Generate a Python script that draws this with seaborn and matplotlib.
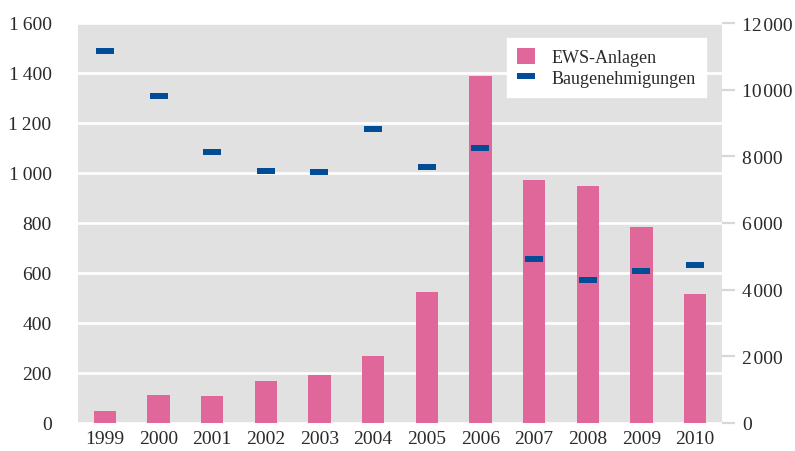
import matplotlib
matplotlib.use("Agg")
from matplotlib import pyplot as plt
from matplotlib.patches import Patch
from matplotlib.lines import Line2D
import seaborn as sns
import numpy as np

# values
years = ['1999', '2000', '2001', '2002', '2003', '2004', '2005', '2006', '2007', '2008', '2009', '2010']
ews_anlagen = [48, 113, 108, 169, 193, 269, 525, 1388, 972, 948, 785, 516]
baugenehmigungen = [11170, 9800, 8130, 7570, 7530, 8810, 7675, 8265, 4910, 4280, 4550, 4730]

left_ticks = [0, 200, 400, 600, 800, 1000, 1200, 1400, 1600]
right_ticks = [0, 2000, 4000, 6000, 8000, 10000, 12000]

pink = '#e0679a'
blue = '#004c97'
panel = '#e1e1e1'
txt = '#2a2a2a'

sns.set_style("white")
plt.rcParams['font.family'] = ['Liberation Serif', 'DejaVu Serif']

def fmt(v, sep='\u2009'):
    # small space as thousands separator
    return '{:,}'.format(v).replace(',', sep)

fig = plt.figure(figsize=(7.95, 4.52), dpi=100)
ax = fig.add_axes([78/795, 1 - 424/452, 644/795, 400/452])
ax.set_facecolor(panel)
ax.set_axisbelow(True)

sns.barplot(x=years, y=ews_anlagen, color=pink, saturation=1, width=0.41, ax=ax,
            linewidth=0, edgecolor='none', zorder=2)
ax.set_ylim(0, 1600)
ax.set_xlim(-0.5, len(years) - 0.5)
ax.set_yticks(left_ticks)
ax.set_yticklabels([fmt(v) for v in left_ticks])
ax.yaxis.grid(True, color='white', linewidth=1.9)
ax.xaxis.grid(False)
ax.tick_params(axis='y', length=0, pad=19, labelsize=14, labelcolor=txt)
ax.tick_params(axis='x', length=0, pad=5, labelsize=14, labelcolor=txt)
ax.set_xlabel('')
ax.set_ylabel('')
for s in ax.spines.values():
    s.set_visible(False)

ax2 = ax.twinx()
sns.pointplot(x=years, y=baugenehmigungen, ax=ax2, color=blue, linestyle='none',
              marker='_', markersize=13.5, markeredgewidth=4.3, errorbar=None)
ax2.set_ylim(0, 12000)
ax2.set_xlim(-0.5, len(years) - 0.5)
ax2.set_yticks(right_ticks)
ax2.set_yticklabels([fmt(v, '\u200a') for v in right_ticks])
ax2.tick_params(axis='y', length=9.5, width=1.6, color='#d8d8d8', pad=5,
                labelsize=14, labelcolor=txt)
ax2.set_ylabel('')
for s in ax2.spines.values():
    s.set_visible(False)

handles = [Patch(facecolor=pink, edgecolor='none'),
           Line2D([], [], color=blue, linestyle='none', marker='_', markersize=13, markeredgewidth=4.3)]
leg = ax2.legend(handles, ['EWS-Anlagen', 'Baugenehmigungen'], loc='upper right',
                 bbox_to_anchor=(0.975, 0.9625), borderaxespad=0, fontsize=13,
                 frameon=True, fancybox=False, facecolor='white', edgecolor='white',
                 framealpha=1, handlelength=1.0, handleheight=1.0, handletextpad=0.9,
                 labelspacing=0.15, borderpad=0.55)
for t in leg.get_texts():
    t.set_color(txt)

plt.savefig('out.png', dpi=100)
